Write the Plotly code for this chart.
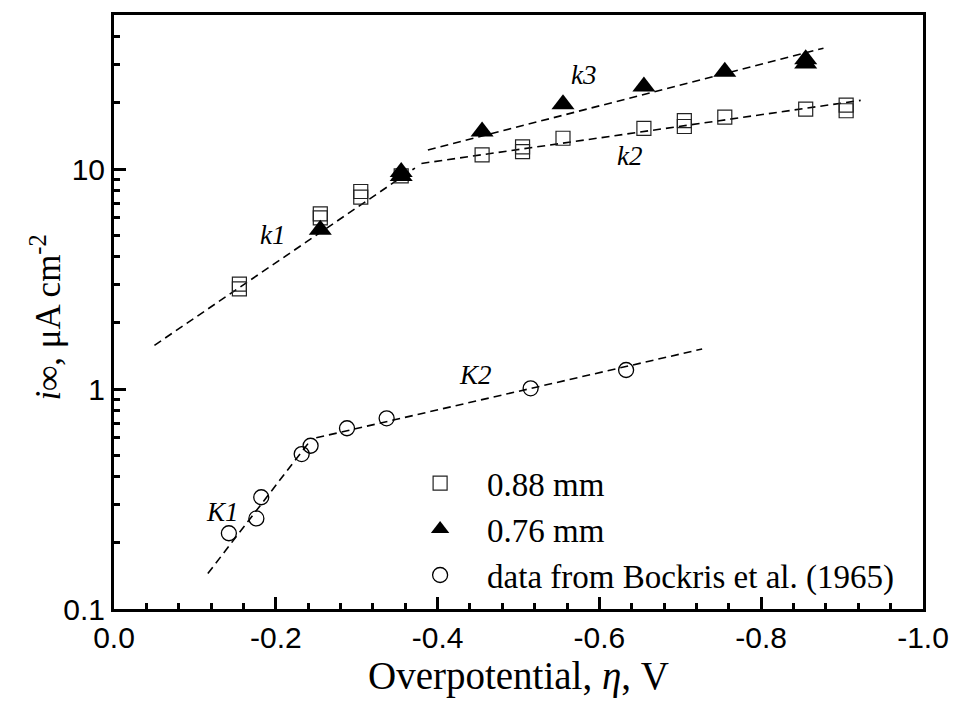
import math
import plotly.graph_objects as go

# Limiting current density vs overpotential, two wire diameters plus literature data
eta_088 = [-0.155, -0.155, -0.255, -0.255, -0.305, -0.305, -0.355, -0.455, -0.505, -0.505,
           -0.555, -0.655, -0.705, -0.705, -0.755, -0.855, -0.905, -0.905]
i_088 = [2.85, 3.0, 6.0, 6.25, 7.45, 7.9, 9.3, 11.6, 12.0, 12.6,
         13.8, 15.3, 15.6, 16.6, 17.2, 18.7, 18.4, 19.5]

eta_076 = [-0.255, -0.355, -0.355, -0.455, -0.555, -0.655, -0.755, -0.855, -0.855]
i_076 = [5.3, 9.3, 9.7, 14.8, 19.7, 23.7, 27.7, 30.2, 31.5]

eta_bockris = [-0.142, -0.176, -0.182, -0.232, -0.243, -0.288, -0.337, -0.515, -0.633]
i_bockris = [0.221, 0.258, 0.322, 0.506, 0.552, 0.663, 0.736, 1.007, 1.22]

# Straight-line (Tafel-type) fits: endpoints of each segment
fit_k1_eta, fit_k1_i = [-0.050, -0.372], [1.58, 10.1]
fit_k2_eta, fit_k2_i = [-0.380, -0.923], [10.6, 20.5]
fit_k3_eta, fit_k3_i = [-0.388, -0.877], [12.2, 35.4]
fit_K1_eta, fit_K1_i = [-0.116, -0.243], [0.145, 0.585]
fit_K2_eta, fit_K2_i = [-0.250, -0.727], [0.60, 1.52]

# Slope labels
label_text = ["k1", "k2", "k3", "K1", "K2"]
label_eta = [-0.196, -0.637, -0.580, -0.134, -0.447]
label_i = [5.0, 11.4, 26.7, 0.276, 1.16]

x_major = [0.0, -0.2, -0.4, -0.6, -0.8, -1.0]
x_minor = [-0.04 * k for k in range(1, 25) if k % 5 != 0]
y_major = [0.1, 1, 10]
y_minor = [m * 10 ** e for e in (-1, 0) for m in range(2, 10)] + [20, 30, 40]

SERIF = "Liberation Serif, Times New Roman, serif"
SANS = "Liberation Sans, Arial, sans-serif"
dash = "8px,5px"

fig = go.Figure()

for ex, iy in [(fit_k1_eta, fit_k1_i), (fit_k2_eta, fit_k2_i), (fit_k3_eta, fit_k3_i),
               (fit_K1_eta, fit_K1_i), (fit_K2_eta, fit_K2_i)]:
    fig.add_trace(go.Scatter(x=ex, y=iy, mode="lines", showlegend=False, hoverinfo="skip",
                             line=dict(color="black", width=1.6, dash=dash)))

fig.add_trace(go.Scatter(
    x=eta_088, y=i_088, mode="markers", name="0.88 mm",
    marker=dict(symbol="square-open", size=14, color="#222", line=dict(width=1.2, color="#222"))))
fig.add_trace(go.Scatter(
    x=eta_076, y=i_076, mode="markers", name="0.76 mm",
    marker=dict(symbol="triangle-up", size=20, color="black", line=dict(width=0))))
fig.add_trace(go.Scatter(
    x=eta_bockris, y=i_bockris, mode="markers", name="data from Bockris et al. (1965)",
    marker=dict(symbol="circle-open", size=15, color="black", line=dict(width=1.3, color="black"))))

# annotation y on a log axis is given in decades
for t, ex, iy in zip(label_text, label_eta, label_i):
    fig.add_annotation(x=ex, y=math.log10(iy), xref="x", yref="y", text=f"<i>{t}</i>",
                       showarrow=False, font=dict(family=SERIF, size=27, color="black"))

# y-axis title sits over the tick-label column, so it is placed as a rotated annotation
fig.add_annotation(xref="paper", yref="paper", x=(46 - 114) / 815, y=0.49,
                   xanchor="center", yanchor="middle", textangle=-90, showarrow=False,
                   text="<i>i</i><i>∞</i>, μA cm<sup>-2</sup>",
                   font=dict(family=SERIF, size=35, color="black"))

fig.update_layout(
    width=961, height=704,
    margin=dict(l=114, r=32, t=13, b=95),
    paper_bgcolor="white", plot_bgcolor="white",
    showlegend=True,
    legend=dict(x=0.345, y=(609 - 529) / 596, xanchor="left", yanchor="middle",
                bgcolor="rgba(0,0,0,0)", borderwidth=0, itemwidth=84,
                font=dict(family=SERIF, size=33, color="black"), tracegroupgap=0),
    xaxis=dict(
        range=[0.0, -1.0], tickvals=x_major, ticktext=[f"{v:.1f}" for v in x_major],
        ticks="inside", ticklen=12, tickwidth=3, tickcolor="black",
        showline=True, linewidth=3, linecolor="black", mirror=True,
        showgrid=False, zeroline=False,
        minor=dict(tickvals=x_minor, ticks="inside", ticklen=6, tickwidth=3, tickcolor="black", showgrid=False),
        tickfont=dict(family=SANS, size=30, color="black"),
        title=dict(text="Overpotential, <i>η</i>, V", standoff=8,
                   font=dict(family=SERIF, size=39, color="black")),
    ),
    yaxis=dict(
        type="log", range=[-1, 1.7], tickvals=y_major, ticktext=["0.1", "1", "10"],
        ticks="inside", ticklen=12, tickwidth=3, tickcolor="black",
        showline=True, linewidth=3, linecolor="black", mirror=True,
        showgrid=False, zeroline=False,
        minor=dict(tickvals=y_minor, ticks="inside", ticklen=6, tickwidth=3, tickcolor="black", showgrid=False),
        tickfont=dict(family=SANS, size=30, color="black"),
    ),
)

fig.write_html("out.html")
